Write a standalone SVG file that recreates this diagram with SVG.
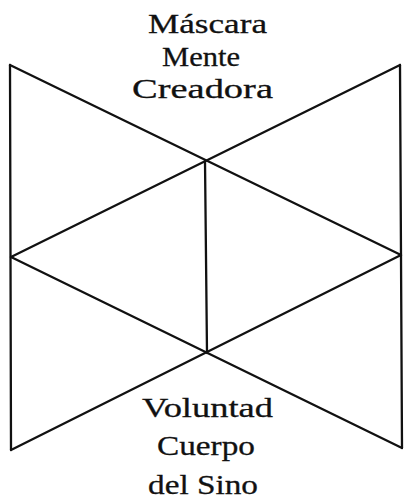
<svg xmlns="http://www.w3.org/2000/svg" width="404" height="501" viewBox="0 0 404 501">
<style>
.ln{stroke:#111;stroke-width:2.3;fill:none;stroke-linecap:round;stroke-linejoin:round}
.t{font-family:"Liberation Serif","DejaVu Serif",serif;font-size:28px;fill:#111;stroke:#111;stroke-width:0.3}
</style>
<rect width="404" height="501" fill="#fff"/>
<g id="connectors">
<polyline class="ln" points="10,65 11,450"/>
<polyline class="ln" points="400,65 402,448"/>
<line class="ln" x1="10" y1="65" x2="401" y2="255"/>
<line class="ln" x1="400" y1="65" x2="11" y2="257"/>
<line class="ln" x1="11" y1="257" x2="402" y2="448"/>
<line class="ln" x1="401" y1="255" x2="11" y2="450"/>
<line class="ln" x1="205" y1="161" x2="207" y2="353"/>
</g>
<g id="top-label">
<text class="t" x="148" y="33" textLength="119" lengthAdjust="spacingAndGlyphs">Máscara</text>
<text class="t" x="162" y="66" textLength="78" lengthAdjust="spacingAndGlyphs">Mente</text>
<text class="t" x="132" y="98" textLength="141" lengthAdjust="spacingAndGlyphs">Creadora</text>
</g>
<g id="bottom-label">
<text class="t" x="142" y="417" textLength="131" lengthAdjust="spacingAndGlyphs">Voluntad</text>
<text class="t" x="157" y="455" textLength="98" lengthAdjust="spacingAndGlyphs">Cuerpo</text>
<text class="t" x="148" y="494" textLength="110" lengthAdjust="spacingAndGlyphs">del Sino</text>
</g>
</svg>
